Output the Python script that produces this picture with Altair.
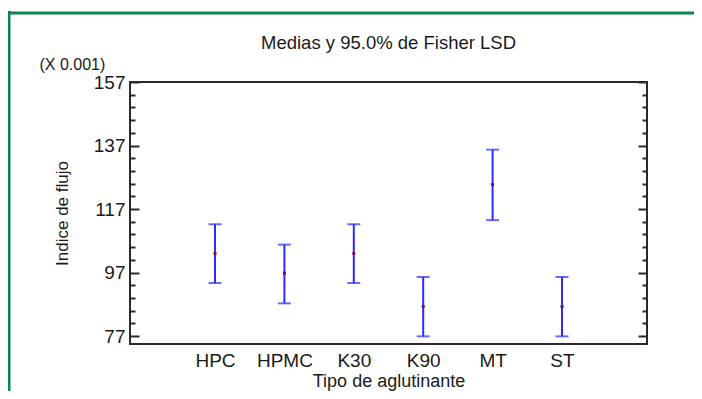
import altair as alt
import pandas as pd

categories = ["HPC", "HPMC", "K30", "K90", "MT", "ST"]
means = [103.0, 96.8, 103.0, 86.3, 124.7, 86.3]
lower = [93.7, 87.3, 93.7, 76.9, 113.5, 76.9]
upper = [112.2, 105.8, 112.2, 95.6, 135.7, 95.6]
major_ticks = [77, 97, 117, 137, 157]
minor_ticks = [81, 85, 89, 93, 101, 105, 109, 113, 121, 125, 129, 133, 141, 145, 149, 153]

df = pd.DataFrame({"cat": categories, "mean": means, "lo": lower, "hi": upper})
one = pd.DataFrame({"k": [0]})

FONT = "Liberation Sans"
DOM = [74.5, 157]
yscale = alt.Scale(domain=DOM, nice=False, zero=False)
TICK = "#2a2a2a"

x_enc = alt.X(
    "cat:N",
    sort=categories,
    scale=alt.Scale(type="point", range=[85, 432], padding=0),
    axis=alt.Axis(
        title="Tipo de aglutinante", ticks=False, domain=False, labelAngle=0,
        labelFontSize=19, labelFont=FONT, labelColor="#1a1a1a", labelPadding=7,
        titleFontSize=18, titleFont=FONT, titleFontWeight="normal", titleColor="#1a1a1a",
        titlePadding=2,
    ),
)

base = alt.Chart(df)

bars = base.mark_rule(color="#2b2bff", strokeWidth=2).encode(
    x=x_enc,
    y=alt.Y("lo:Q", scale=yscale, axis=alt.Axis(
        orient="left", values=major_ticks, offset=-9, tickSize=9, tickWidth=2,
        tickColor=TICK, domain=False, grid=False, labelFontSize=19, labelFont=FONT,
        labelColor="#1a1a1a", labelPadding=5, title="Indice de flujo", titleFontSize=17,
        titleFont=FONT, titleFontWeight="normal", titleColor="#1a1a1a", titlePadding=22,
    )),
    y2="hi:Q",
)

cap_lo = base.mark_tick(color="#2b2bff", size=13, thickness=2).encode(
    x=x_enc, y=alt.Y("lo:Q", scale=yscale, axis=None))
cap_hi = base.mark_tick(color="#2b2bff", size=13, thickness=2).encode(
    x=x_enc, y=alt.Y("hi:Q", scale=yscale, axis=None))
pts = base.mark_point(shape="square", filled=True, size=9, color="#7a1050", opacity=1).encode(
    x=x_enc, y=alt.Y("mean:Q", scale=yscale, axis=None))

minor_left = base.mark_rule(opacity=0).encode(
    x=x_enc,
    y=alt.Y("lo:Q", scale=yscale, axis=alt.Axis(
        orient="left", values=minor_ticks, offset=-5, tickSize=5, tickWidth=2,
        tickColor=TICK, domain=False, grid=False, labels=False,
        title="(X 0.001)", titleAngle=0, titleX=-96, titleY=-13, titleAlign="left",
        titleBaseline="alphabetic", titleFontSize=16, titleFont=FONT,
        titleFontWeight="normal", titleColor="#1a1a1a",
    )),
)
major_right = base.mark_rule(opacity=0).encode(
    x=x_enc,
    y=alt.Y("lo:Q", scale=yscale, axis=alt.Axis(
        orient="right", values=major_ticks, offset=-9, tickSize=9, tickWidth=2,
        tickColor=TICK, domain=False, grid=False, labels=False, title=None,
    )),
)
minor_right = base.mark_rule(opacity=0).encode(
    x=x_enc,
    y=alt.Y("lo:Q", scale=yscale, axis=alt.Axis(
        orient="right", values=minor_ticks, offset=-5, tickSize=5, tickWidth=2,
        tickColor=TICK, domain=False, grid=False, labels=False, title=None,
    )),
)

green = "#078550"
border_top = alt.Chart(one).mark_rule(color=green, strokeWidth=3).encode(
    x=alt.value(-125), x2=alt.value(700), y=alt.value(-69))
border_left = alt.Chart(one).mark_rule(color=green, strokeWidth=3).encode(
    x=alt.value(-121), y=alt.value(-71), y2=alt.value(400))

chart = alt.layer(
    minor_left, major_right, minor_right, bars, cap_lo, cap_hi, pts, border_top, border_left
).resolve_axis(y="independent").properties(
    width=517, height=262,
    autosize=alt.AutoSizeParams(type="none"),
    padding={"left": 122, "top": 74, "right": 47, "bottom": 47},
    title=alt.TitleParams(
        "Medias y 95.0% de Fisher LSD", font=FONT, fontSize=18.5, fontWeight="normal",
        color="#1a1a1a", anchor="middle", frame="group", offset=-43,
    ),
).configure_view(stroke="#2a2a2a", strokeWidth=2)

chart.save("out.html", embed_options={"renderer": "svg", "actions": False})
